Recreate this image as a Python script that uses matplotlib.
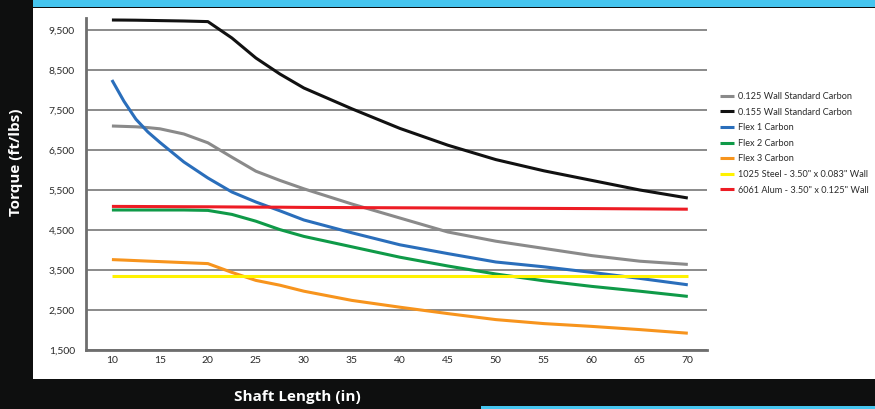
import matplotlib.pyplot as plt
from matplotlib.patches import Rectangle

# Shaft length (in) sample points
length = [10, 11.25, 12.5, 13.75, 15, 17.5, 20, 22.5, 25, 27.5, 30, 35, 40, 45, 50, 55, 60, 65, 70]

# Torque (ft/lbs) for each shaft type
wall_125 = [7100, 7090, 7080, 7060, 7030, 6900, 6680, 6320, 5970, 5740, 5530, 5150, 4800, 4450, 4220, 4040, 3860, 3720, 3640]
wall_155 = [9750, 9748, 9745, 9740, 9735, 9725, 9710, 9300, 8800, 8400, 8050, 7530, 7040, 6620, 6260, 5980, 5740, 5500, 5300]
flex_1 = [8250, 7720, 7270, 6950, 6690, 6200, 5800, 5450, 5200, 4980, 4750, 4430, 4130, 3910, 3700, 3580, 3440, 3290, 3130]
flex_2 = [5000, 5000, 5000, 5000, 5000, 5000, 4990, 4890, 4720, 4510, 4340, 4080, 3820, 3600, 3400, 3230, 3090, 2970, 2840]
flex_3 = [3760, 3748, 3735, 3722, 3710, 3685, 3660, 3440, 3240, 3120, 2970, 2740, 2570, 2410, 2260, 2160, 2090, 2010, 1920]
steel_1025 = [3340] * len(length)
alum_6061 = [5090, 5089, 5088, 5086, 5085, 5082, 5080, 5076, 5072, 5070, 5065, 5060, 5055, 5050, 5045, 5040, 5035, 5028, 5020]

labels = ['0.125 Wall Standard Carbon', '0.155 Wall Standard Carbon', 'Flex 1 Carbon',
          'Flex 2 Carbon', 'Flex 3 Carbon', '1025 Steel - 3.50" x 0.083" Wall',
          '6061 Alum - 3.50" x 0.125" Wall']
series = [wall_125, wall_155, flex_1, flex_2, flex_3, steel_1025, alum_6061]
colors = ['#8a8a8a', '#111111', '#2a6ebb', '#0f9a48', '#f7941d', '#fff200', '#ed1c24']

y_ticks = [1500, 2500, 3500, 4500, 5500, 6500, 7500, 8500, 9500]
x_ticks = [10, 15, 20, 25, 30, 35, 40, 45, 50, 55, 60, 65, 70]

W, H = 875, 409
fig = plt.figure(figsize=(W / 100, H / 100), dpi=100)
fig.patch.set_facecolor('#0e0f0f')

# white panel and the cyan bands (behind the axes)
fig.patches.append(Rectangle((33 / W, 1 - 379 / H), 842 / W, 371 / H,
                             transform=fig.transFigure, facecolor='white', zorder=-5))
fig.patches.append(Rectangle((33 / W, 1 - 7 / H), 842 / W, 7 / H,
                             transform=fig.transFigure, facecolor='#45c5ef', zorder=-5))
fig.patches.append(Rectangle((481 / W, 0), 394 / W, 3 / H,
                             transform=fig.transFigure, facecolor='#45c5ef', zorder=-5))

ax = fig.add_axes([86 / W, 1 - 350 / H, 621 / W, 332 / H])
ax.set_facecolor('none')

for vals, lab, c in zip(series, labels, colors):
    ax.plot(length, vals, color=c, linewidth=2.2, label=lab, solid_capstyle='butt')

ax.set_xlim(7.3, 72.0)
ax.set_ylim(1500, 9800)
ax.set_xticks(x_ticks)
ax.set_yticks(y_ticks)
ax.set_yticklabels([f'{v:,}' for v in y_ticks])
ax.tick_params(length=0, labelsize=7.5, labelcolor='#2a2a2a')
ax.tick_params(axis='y', pad=8)
ax.tick_params(axis='x', pad=4)
for t in ax.get_xticklabels() + ax.get_yticklabels():
    t.set_fontfamily('Lato')

ax.grid(axis='y', color='#6b6b6b', linewidth=1.1)
ax.set_axisbelow(True)
for s in ['top', 'right']:
    ax.spines[s].set_visible(False)
for s in ['left', 'bottom']:
    ax.spines[s].set_color('#6e6e6e')
    ax.spines[s].set_linewidth(2.0)

leg = ax.legend(loc='upper left', bbox_to_anchor=(720 / W, 1 - 92 / H),
                bbox_transform=fig.transFigure, frameon=False, borderpad=0,
                borderaxespad=0, handlelength=1.5, handletextpad=0.5,
                labelspacing=0.72, prop={'family': 'Lato', 'size': 6.6})
for t in leg.get_texts():
    t.set_color('#2a2a2a')

fig.text(16 / W, 1 - 162 / H, 'Torque (ft/lbs)', rotation=90, color='white',
         fontsize=11, fontweight='bold', family='Open Sans', ha='center', va='center')
fig.text(297 / W, 1 - 397 / H, 'Shaft Length (in)', color='white',
         fontsize=11, fontweight='bold', family='Open Sans', ha='center', va='center')

fig.savefig('out.png', dpi=100, facecolor=fig.get_facecolor())
